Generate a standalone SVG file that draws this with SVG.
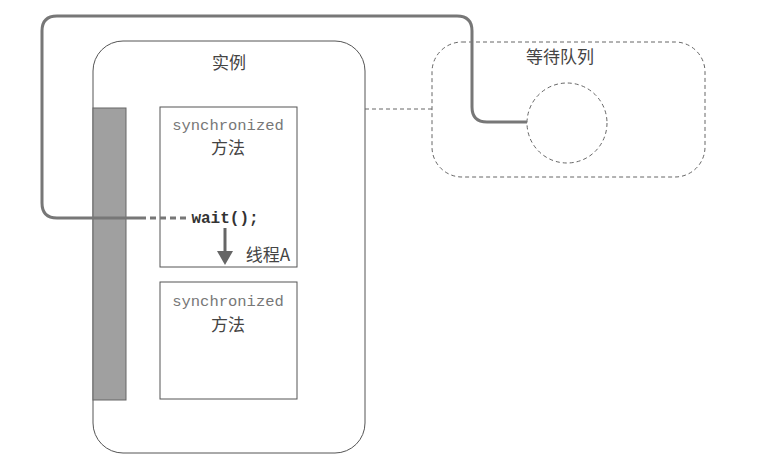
<svg xmlns="http://www.w3.org/2000/svg" width="759" height="464" viewBox="0 0 759 464">
<style>
.t{font-family:"Noto Sans CJK SC","Liberation Sans",sans-serif;font-size:17px;fill:#444;text-anchor:middle}
.m{font-family:"Liberation Mono",monospace;font-size:15.5px;fill:#777;text-anchor:middle}
.box{fill:#fff;stroke:#555;stroke-width:1}
.dash{fill:none;stroke:#666;stroke-width:1;stroke-dasharray:4 3}
</style>
<rect width="759" height="464" fill="#fff"/>
<g id="instance">
<rect x="93" y="41" width="272" height="412" rx="30" class="box"/>
<text x="229" y="69" class="t">实例</text>
<rect x="93" y="108" width="33" height="292" fill="#a0a0a0" stroke="#666" stroke-width="1"/>
</g>
<g id="method1">
<rect x="160" y="107" width="137" height="160" class="box"/>
<text x="228" y="130" class="m">synchronized</text>
<text x="228" y="154" class="t">方法</text>
<text x="225" y="223" class="m" style="font-weight:bold;fill:#333;font-size:16px">wait();</text>
</g>
<g id="method2">
<rect x="160" y="282" width="137" height="117" class="box"/>
<text x="228" y="306" class="m">synchronized</text>
<text x="228" y="331" class="t">方法</text>
</g>
<g id="waitset">
<rect x="432" y="42" width="273" height="135" rx="30" class="dash"/>
<text x="560" y="63" class="t">等待队列</text>
<circle cx="567" cy="123" r="40" class="dash"/>
</g>
<g id="threadA">
<line x1="225" y1="228" x2="225" y2="253" stroke="#666" stroke-width="3"/>
<polygon points="217,251 233,251 225,265" fill="#666"/>
<text x="268" y="261" class="t">线程A</text>
</g>
<g id="connectors">
<path d="M140 218 H57 Q42 218 42 203 V31 Q42 16 57 16 H457 Q472 16 472 31 V107 Q472 122 487 122 H527" fill="none" stroke="#777" stroke-width="3"/>
<line x1="140" y1="218" x2="190" y2="218" stroke="#777" stroke-width="3" stroke-dasharray="6 4"/>
<line x1="365" y1="109" x2="432" y2="109" class="dash"/>
</g>
</svg>
